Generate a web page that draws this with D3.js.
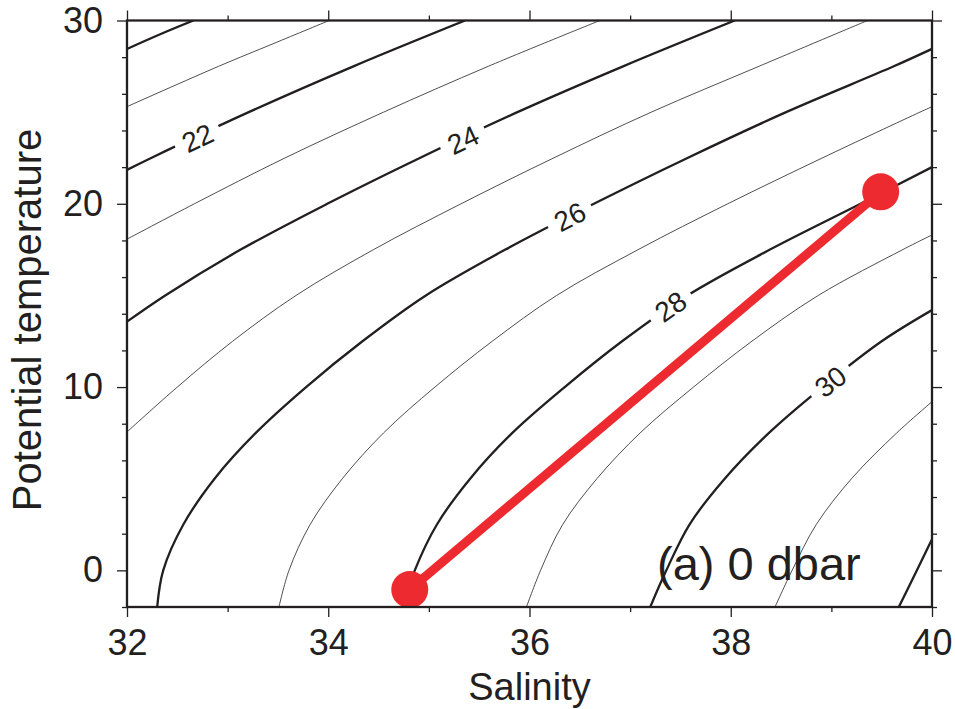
<!DOCTYPE html>
<html>
<head>
<meta charset="utf-8">
<script src="https://cdn.jsdelivr.net/npm/d3@7.9.0/dist/d3.min.js"></script>
<style>
  body { margin: 0; background: #fff; }
  text { font-family: "Liberation Sans", Arial, Helvetica, sans-serif; fill: #231f20; }
</style>
</head>
<body>
<svg id="chart" width="955" height="709"></svg>
<script>
// ===== Data =====
// sigma-0 contours, each as [salinity, potential temperature] points
const c20 = [[32.00, 28.45], [32.33, 29.25], [32.66, 30.0]];
const c21 = [[32.00, 25.3], [32.91, 27.5], [33.46, 28.75], [34.01, 30.0]];
const c22 = [[32.00, 21.85], [32.24, 22.5], [33.21, 25.0], [34.25, 27.5], [35.36, 30.0]];
const c23 = [[32.00, 18.07], [32.67, 20.0], [33.57, 22.5], [34.55, 25.0], [35.59, 27.5], [36.70, 30.0]];
const c24 = [[32.00, 13.57], [32.38, 15.0], [33.13, 17.5], [33.99, 20.0], [34.91, 22.5], [35.88, 25.0],
             [36.93, 27.5], [38.04, 30.0]];
const c25 = [[32.00, 7.55], [32.50, 10.0], [33.05, 12.5], [33.68, 15.0], [34.45, 17.5], [35.32, 20.0],
             [36.24, 22.5], [37.21, 25.0], [38.28, 27.5], [39.36, 30.0]];
const c26 = [[32.30, -2.0], [32.36, 0.0], [32.56, 2.5], [32.87, 5.0], [33.28, 7.5], [33.78, 10.0],
             [34.34, 12.5], [34.97, 15.0], [35.76, 17.5], [36.64, 20.0], [37.57, 22.5], [38.55, 25.0],
             [39.62, 27.5], [40.00, 28.45]];
const c27 = [[33.51, -2.0], [33.61, 0.0], [33.82, 2.5], [34.14, 5.0], [34.55, 7.5], [35.06, 10.0],
             [35.63, 12.5], [36.27, 15.0], [37.08, 17.5], [37.97, 20.0], [38.91, 22.5], [39.88, 25.0],
             [40.00, 25.3]];
const c28 = [[34.74, -2.0], [34.86, 0.0], [35.08, 2.5], [35.41, 5.0], [35.83, 7.5], [36.35, 10.0],
             [36.92, 12.5], [37.57, 15.0], [38.39, 17.5], [39.29, 20.0], [40.00, 22.0]];
const c29 = [[35.97, -2.0], [36.11, 0.0], [36.33, 2.5], [36.67, 5.0], [37.10, 7.5], [37.63, 10.0],
             [38.21, 12.5], [38.87, 15.0], [39.71, 17.5], [40.00, 18.3]];
const c30 = [[37.20, -2.0], [37.36, 0.0], [37.59, 2.5], [37.94, 5.0], [38.38, 7.5], [38.91, 10.0],
             [39.50, 12.5], [40.00, 14.2]];
const c31 = [[38.44, -2.0], [38.61, 0.0], [38.85, 2.5], [39.20, 5.0], [39.65, 7.5], [40.00, 9.2]];
const c32 = [[39.67, -2.0], [39.85, 0.0], [40.00, 1.7]];

const levels = [20, 21, 22, 23, 24, 25, 26, 27, 28, 29, 30, 31, 32];
const contourPts = [c20, c21, c22, c23, c24, c25, c26, c27, c28, c29, c30, c31, c32];

// contour labels
const labelLevels = [22, 24, 26, 28, 30];
const labelS = [32.70, 35.34, 36.40, 37.40, 38.99];
const labelT = [23.6, 23.5, 19.3, 14.4, 10.3];

// mixing line end members
const mixS = [34.81, 39.49];
const mixT = [-1.05, 20.65];

// axes
const xMajor = [32, 34, 36, 38, 40];
const xMinor = [33, 35, 37, 39];
const yMajor = [0, 10, 20, 30];
const yMinor = [-2, 2, 4, 6, 8, 12, 14, 16, 18, 22, 24, 26, 28];

// ===== Layout =====
const svg = d3.select('#chart');
const mLeft = 127, mRight = 932, mTop = 20.5, mBottom = 607;
const W = mRight - mLeft, H = mBottom - mTop;

const x = d3.scaleLinear().domain([32, 40]).range([0, W]);
const y = d3.scaleLinear().domain([-2, 30]).range([H, 0]);

const g = svg.append('g').attr('transform', `translate(${mLeft},${mTop})`);

g.append('clipPath').attr('id', 'plotclip')
  .append('rect').attr('width', W).attr('height', H);

const plot = g.append('g').attr('clip-path', 'url(#plotclip)');

// ===== Contours =====
const line = d3.line()
  .x(d => x(d[0]))
  .y(d => y(d[1]))
  .curve(d3.curveCatmullRom.alpha(0.5));

const contours = levels.map((lv, i) => ({ level: lv, pts: contourPts[i] }));

plot.selectAll('path.contour')
  .data(contours)
  .join('path')
  .attr('class', 'contour')
  .attr('d', d => line(d.pts))
  .attr('fill', 'none')
  .attr('stroke', '#231f20')
  .attr('stroke-width', d => d.level % 2 === 0 ? 2.3 : 0.8);

// labels with a gap cut in the line
function slopeAngle(pts, s) {
  let k = 0;
  while (k < pts.length - 2 && pts[k + 1][0] < s) k++;
  const a = pts[k], b = pts[k + 1];
  const dx = x(b[0]) - x(a[0]), dy = y(b[1]) - y(a[1]);
  return Math.atan2(dy, dx) * 180 / Math.PI;
}

const labels = labelLevels.map((lv, i) => ({
  level: lv, s: labelS[i], t: labelT[i],
  angle: slopeAngle(contourPts[levels.indexOf(lv)], labelS[i])
}));

const lab = plot.selectAll('g.clabel')
  .data(labels)
  .join('g')
  .attr('class', 'clabel')
  .attr('transform', d => `translate(${x(d.s)},${y(d.t)}) rotate(${d.angle})`);

lab.append('rect')
  .attr('x', -24).attr('y', -9).attr('width', 48).attr('height', 18)
  .attr('fill', '#fff');

lab.append('text')
  .attr('text-anchor', 'middle')
  .attr('dy', '0.36em')
  .style('font-size', '28px')
  .text(d => d.level);

// ===== Mixing line =====
const mix = mixS.map((s, i) => [s, mixT[i]]);
g.append('path')
  .attr('d', d3.line().x(d => x(d[0])).y(d => y(d[1]))(mix))
  .attr('fill', 'none')
  .attr('stroke', '#ed2a2f')
  .attr('stroke-width', 9);

g.selectAll('circle.end')
  .data(mix)
  .join('circle')
  .attr('class', 'end')
  .attr('cx', d => x(d[0]))
  .attr('cy', d => y(d[1]))
  .attr('r', 18.5)
  .attr('fill', '#ed2a2f');

// ===== Axes =====
function styleAxis(sel) {
  sel.select('.domain').remove();
  sel.selectAll('.tick line').attr('stroke', '#231f20').attr('stroke-width', 1.3);
  sel.selectAll('.tick text').style('font-size', '36px').attr('fill', '#231f20');
}

g.append('g').attr('transform', `translate(0,${H})`)
  .call(d3.axisBottom(x).tickValues(xMajor).tickSize(10).tickPadding(12).tickFormat(d3.format('d')))
  .call(styleAxis);
g.append('g').attr('transform', `translate(0,${H})`)
  .call(d3.axisBottom(x).tickValues(xMinor).tickSize(5).tickFormat(''))
  .call(styleAxis);
g.append('g')
  .call(d3.axisTop(x).tickValues(xMajor).tickSize(10).tickFormat(''))
  .call(styleAxis);
g.append('g')
  .call(d3.axisTop(x).tickValues(xMinor).tickSize(5).tickFormat(''))
  .call(styleAxis);

g.append('g')
  .call(d3.axisLeft(y).tickValues(yMajor).tickSize(10).tickPadding(14).tickFormat(d3.format('d')))
  .call(styleAxis);
g.append('g')
  .call(d3.axisLeft(y).tickValues(yMinor).tickSize(5).tickFormat(''))
  .call(styleAxis);
g.append('g').attr('transform', `translate(${W},0)`)
  .call(d3.axisRight(y).tickValues(yMajor).tickSize(10).tickFormat(''))
  .call(styleAxis);
g.append('g').attr('transform', `translate(${W},0)`)
  .call(d3.axisRight(y).tickValues(yMinor).tickSize(5).tickFormat(''))
  .call(styleAxis);

// frame
g.append('rect')
  .attr('width', W).attr('height', H)
  .attr('fill', 'none')
  .attr('stroke', '#231f20')
  .attr('stroke-width', 2.3);

// axis titles
svg.append('text')
  .attr('x', mLeft + W / 2).attr('y', 700)
  .attr('text-anchor', 'middle')
  .style('font-size', '38px')
  .text('Salinity');

svg.append('text')
  .attr('transform', 'translate(41,320) rotate(-90)')
  .attr('text-anchor', 'middle')
  .style('font-size', '40px')
  .text('Potential temperature');

// panel tag
g.append('text')
  .attr('x', 657 - mLeft).attr('y', 580 - mTop)
  .style('font-size', '47px')
  .text('(a) 0 dbar');
</script>
</body>
</html>
